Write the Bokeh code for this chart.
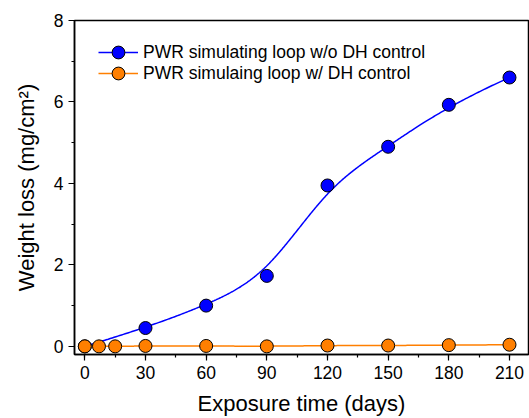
import numpy as np
from bokeh.plotting import figure
from bokeh.models import Range1d, Legend, LegendItem, FixedTicker
from bokeh.embed import file_html
from bokeh.resources import INLINE

# Data
blue_days = [0, 30, 60, 90, 120, 150, 180, 210]
blue_loss = [0.0, 0.45, 1.0, 1.73, 3.95, 4.9, 5.93, 6.6]
orange_days = [0, 7, 15, 30, 60, 90, 120, 150, 180, 210]
orange_loss = [0.0, 0.0, 0.0, 0.01, 0.01, 0.0, 0.02, 0.02, 0.03, 0.04]
x_ticks = [0, 30, 60, 90, 120, 150, 180, 210]
y_ticks = [0, 2, 4, 6, 8]
label_blue = "PWR simulating loop w/o DH control"
label_orange = "PWR simulaing loop w/ DH control"


def bspline(cx, cy, k=3, n=400):
    """Clamped uniform B-spline using the data points as control points."""
    cx = np.asarray(cx, float)
    cy = np.asarray(cy, float)
    m = len(cx)
    inner = m - k - 1
    knots = np.concatenate([np.zeros(k + 1), np.arange(1, inner + 1), np.full(k + 1, inner + 1)])
    ts = np.linspace(0, inner + 1, n)
    xs, ys = [], []
    for t in ts:
        N = np.zeros(len(knots) - 1)
        for i in range(len(knots) - 1):
            if knots[i] <= t < knots[i + 1]:
                N[i] = 1.0
        if t >= knots[-1]:
            idx = np.max(np.where(knots[:-1] < knots[-1])[0])
            N[idx] = 1.0
        for d in range(1, k + 1):
            Nn = np.zeros(len(knots) - 1 - d)
            for i in range(len(Nn)):
                a = 0.0
                den1 = knots[i + d] - knots[i]
                if den1 > 0:
                    a += (t - knots[i]) / den1 * N[i]
                den2 = knots[i + d + 1] - knots[i + 1]
                if den2 > 0:
                    a += (knots[i + d + 1] - t) / den2 * N[i + 1]
                Nn[i] = a
            N = Nn
        xs.append(float(N @ cx))
        ys.append(float(N @ cy))
    return xs, ys


bx, by = bspline(blue_days, blue_loss)
ox, oy = bspline(orange_days, orange_loss)

FONT = "Liberation Sans"

p = figure(width=529, height=418, output_backend="svg", toolbar_location=None,
           x_range=Range1d(-5.1, 219.4), y_range=Range1d(-0.2, 8),
           min_border_left=74, min_border_right=1, min_border_top=20, min_border_bottom=63)

p.xgrid.visible = False
p.ygrid.visible = False
p.outline_line_color = "black"
p.outline_line_width = 1.5
p.background_fill_color = "white"
p.border_fill_color = "white"

for ax in (p.xaxis[0], p.yaxis[0]):
    ax.axis_line_color = "black"
    ax.axis_line_width = 1.5
    ax.major_tick_line_color = "black"
    ax.minor_tick_line_color = "black"
    ax.major_tick_line_width = 1.2
    ax.minor_tick_line_width = 1.2
    ax.major_tick_in = 0
    ax.minor_tick_in = 0
    ax.major_tick_out = 6
    ax.minor_tick_out = 3
    ax.major_label_text_font = FONT
    ax.major_label_text_font_size = "17.5px"
    ax.major_label_text_color = "black"
    ax.axis_label_text_font = FONT
    ax.axis_label_text_font_size = "22px"
    ax.axis_label_text_font_style = "normal"
    ax.axis_label_text_color = "black"

p.xaxis.ticker = FixedTicker(ticks=x_ticks, minor_ticks=list(range(0, 220, 15)))
p.yaxis.ticker = FixedTicker(ticks=y_ticks, minor_ticks=list(range(0, 9, 1)))
p.xaxis.axis_label = "Exposure time (days)"
p.yaxis.axis_label = "Weight loss (mg/cm²)"
p.xaxis.major_label_standoff = 5
p.yaxis.major_label_standoff = 5
p.xaxis.axis_label_standoff = 9
p.yaxis.axis_label_standoff = 12

bl = p.line(bx, by, line_color="#0000FF", line_width=1.5)
bs = p.scatter(blue_days, blue_loss, marker="circle", size=13, fill_color="#0000FF",
               line_color="black", line_width=1)
ol = p.line(ox, oy, line_color="#FF7F00", line_width=1.5)
os_ = p.scatter(orange_days, orange_loss, marker="circle", size=13, fill_color="#FF7F00",
                line_color="black", line_width=1)


def make_legend(label, renderers, loc):
    lg = Legend(items=[LegendItem(label=label, renderers=renderers)], location=loc)
    lg.border_line_color = None
    lg.background_fill_alpha = 0
    lg.label_text_font = FONT
    lg.label_text_font_size = "17.5px"
    lg.label_text_color = "black"
    lg.glyph_width = 40
    lg.glyph_height = 32
    lg.label_standoff = 5
    lg.spacing = 0
    lg.padding = 0
    lg.margin = 0
    return lg


p.add_layout(make_legend(label_blue, [bl, bs], (24, 286)))
p.add_layout(make_legend(label_orange, [ol, os_], (24, 265)))

open("out.html", "w").write(file_html(p, INLINE))
